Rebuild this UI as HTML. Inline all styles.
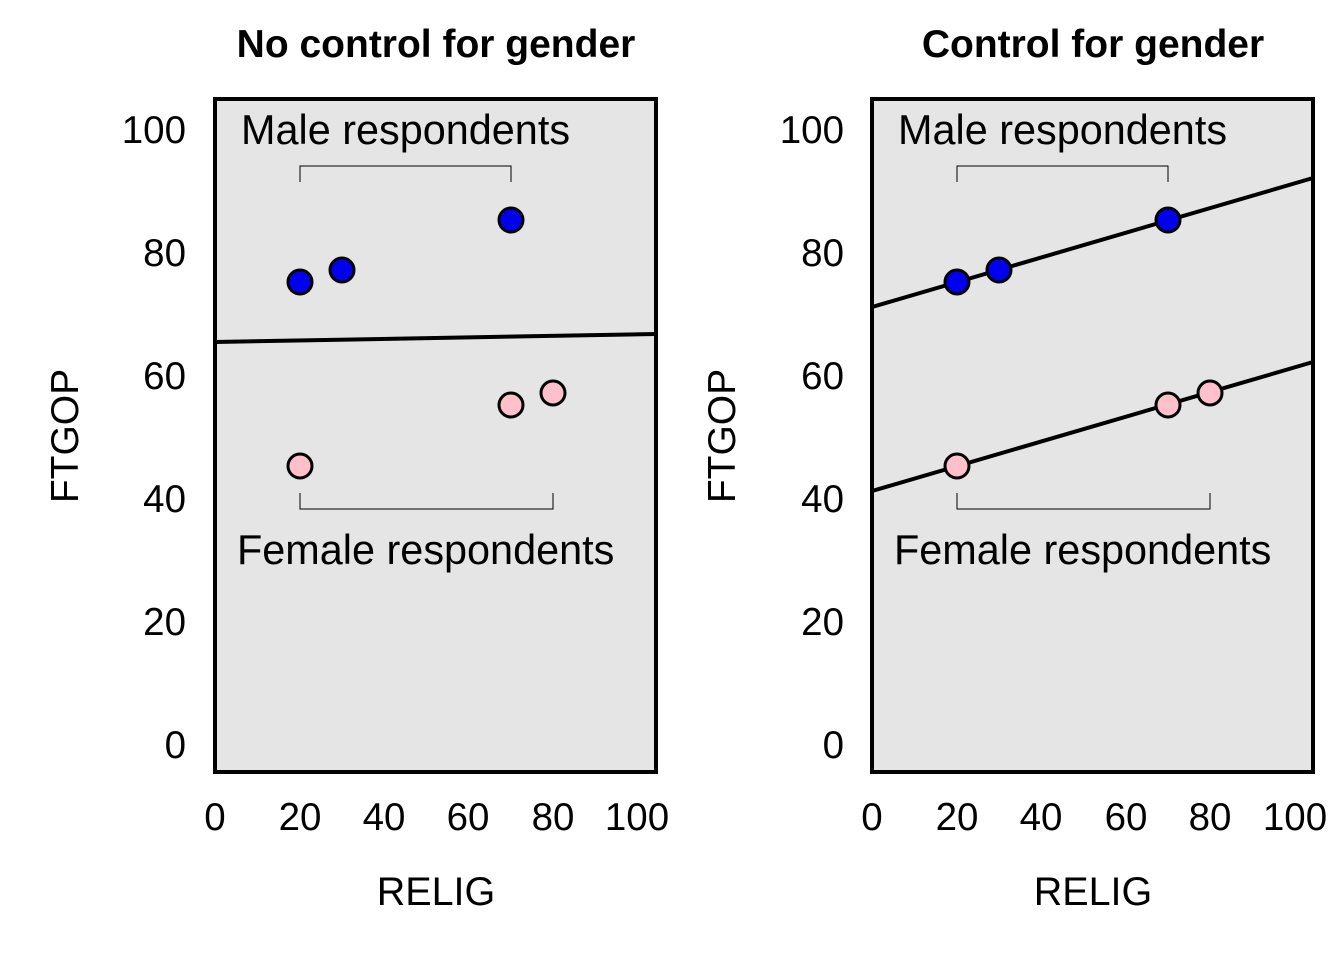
<!DOCTYPE html>
<html><head><style>body{margin:0;background:#fff}</style></head><body>
<svg width="1344" height="960" xmlns="http://www.w3.org/2000/svg" font-family="Liberation Sans, Arial, sans-serif">
<rect width="1344" height="960" fill="#fff"/>
<g id="L">
<text x="436" y="57" font-size="39" font-weight="bold" text-anchor="middle">No control for gender</text>
<rect x="215" y="99" width="441" height="673" fill="#e5e5e5" stroke="#000" stroke-width="4"/>
<g font-size="38.5" text-anchor="end">
<text x="186" y="758">0</text><text x="186" y="635">20</text><text x="186" y="512">40</text><text x="186" y="389">60</text><text x="186" y="266">80</text><text x="186" y="143">100</text>
</g>
<g font-size="38.5" text-anchor="middle">
<text x="215" y="830">0</text><text x="300" y="830">20</text><text x="384" y="830">40</text><text x="468" y="830">60</text><text x="553" y="830">80</text><text x="637" y="830">100</text>
<text x="436" y="905" font-size="39.5">RELIG</text>
</g>
<text transform="translate(78,436) rotate(-90)" font-size="39" text-anchor="middle">FTGOP</text>
<text x="241" y="144" font-size="41.4">Male respondents</text>
<text x="237" y="564" font-size="41.4">Female respondents</text>
<path d="M300,182V166H511V182M300,493V509H553V493" fill="none" stroke="#000" stroke-width="1"/>
<line x1="215" y1="342" x2="656" y2="334" stroke="#000" stroke-width="4"/>
<g stroke="#000" stroke-width="3" fill="#0000ee">
<circle cx="300" cy="282" r="12"/><circle cx="342" cy="270" r="12"/><circle cx="511" cy="220" r="12"/>
</g>
<g stroke="#000" stroke-width="3" fill="#ffc0cb">
<circle cx="300" cy="466" r="12"/><circle cx="511" cy="405" r="12"/><circle cx="553" cy="393" r="12"/>
</g>
</g>
<g id="R">
<text x="1093" y="57" font-size="39" font-weight="bold" text-anchor="middle">Control for gender</text>
<rect x="872" y="99" width="441" height="673" fill="#e5e5e5" stroke="#000" stroke-width="4"/>
<g font-size="38.5" text-anchor="end">
<text x="844" y="758">0</text><text x="844" y="635">20</text><text x="844" y="512">40</text><text x="844" y="389">60</text><text x="844" y="266">80</text><text x="844" y="143">100</text>
</g>
<g font-size="38.5" text-anchor="middle">
<text x="872" y="830">0</text><text x="957" y="830">20</text><text x="1041" y="830">40</text><text x="1126" y="830">60</text><text x="1210" y="830">80</text><text x="1295" y="830">100</text>
<text x="1093" y="905" font-size="39.5">RELIG</text>
</g>
<text transform="translate(735,436) rotate(-90)" font-size="39" text-anchor="middle">FTGOP</text>
<text x="898" y="144" font-size="41.4">Male respondents</text>
<text x="894" y="564" font-size="41.4">Female respondents</text>
<path d="M957,182V166H1168V182M957,493V509H1210V493" fill="none" stroke="#000" stroke-width="1"/>
<line x1="872" y1="307" x2="1313" y2="178" stroke="#000" stroke-width="4"/>
<line x1="872" y1="491" x2="1313" y2="362" stroke="#000" stroke-width="4"/>
<g stroke="#000" stroke-width="3" fill="#0000ee">
<circle cx="957" cy="282" r="12"/><circle cx="999" cy="270" r="12"/><circle cx="1168" cy="220" r="12"/>
</g>
<g stroke="#000" stroke-width="3" fill="#ffc0cb">
<circle cx="957" cy="466" r="12"/><circle cx="1168" cy="405" r="12"/><circle cx="1210" cy="393" r="12"/>
</g>
</g>
</svg>
</body></html>
